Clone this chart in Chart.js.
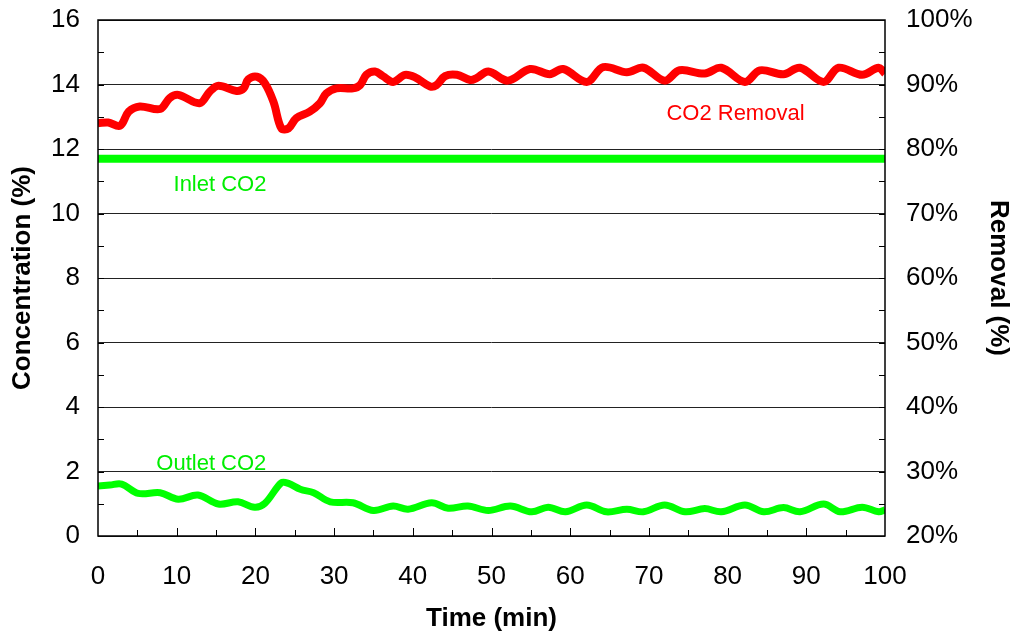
<!DOCTYPE html>
<html>
<head>
<meta charset="utf-8">
<script src="https://cdn.jsdelivr.net/npm/chart.js@4.4.0/dist/chart.umd.min.js"></script>
<style>
  html, body { margin: 0; padding: 0; background: #fff; }
  #wrap { width: 1016px; height: 635px; }
</style>
</head>
<body>
<div id="wrap"><canvas id="myChart" width="1016" height="635"></canvas></div>
<script>
// time (min) and values
var removalTime = [0, 1.3, 2.8, 3.9, 5.3, 7.9, 9.1, 10.2, 12.9, 14.2, 15.3, 17.6, 18.5, 19.1, 20.2,
    21.2, 22.3, 23.3, 24.2, 25.2, 26.9, 28.2, 29.0, 30.3, 32.4, 33.3, 34.1, 35.2, 36.2, 37.5,
    39.0, 40.3, 42.2, 43.0, 44.1, 45.6, 47.3, 48.1, 49.6, 52.1, 54.9, 57.4, 59.1, 62.1, 64.2,
    67.2, 69.3, 72.0, 73.9, 77.1, 79.2, 82.2, 84.1, 87.1, 89.2, 92.2, 94.1, 97.1, 99.2, 100];
var removal = [84.0, 84.1, 83.6, 85.8, 86.6, 86.2, 87.9, 88.4, 87.1, 88.9, 89.8, 89.0, 89.4, 90.8, 91.2,
    90.2, 87.3, 83.2, 83.2, 84.8, 85.8, 87.1, 88.6, 89.4, 89.4, 89.9, 91.5, 92.0, 91.3, 90.4,
    91.5, 91.1, 89.7, 89.9, 91.3, 91.5, 90.7, 91.0, 92.0, 90.6, 92.4, 91.6, 92.4, 90.4, 92.7,
    91.9, 92.6, 90.6, 92.2, 91.7, 92.6, 90.4, 92.2, 91.6, 92.6, 90.4, 92.6, 91.5, 92.6, 91.7];

var outletTime = [0, 1.5, 3.0, 5.1, 7.9, 10.2, 12.7, 15.3, 17.8, 19.9, 21.2, 23.3, 24.2, 25.7, 27.4,
    29.5, 32.4, 35.0, 37.5, 39.4, 42.4, 44.5, 47.0, 49.6, 52.4, 55.1, 57.2, 59.4, 62.1, 64.6,
    67.2, 69.3, 72.0, 74.6, 77.1, 79.2, 82.2, 84.6, 87.1, 89.2, 92.2, 94.3, 97.1, 99.2, 100];
var outletCO2 = [1.55, 1.58, 1.61, 1.32, 1.34, 1.14, 1.27, 0.99, 1.06, 0.89, 1.01, 1.65, 1.63, 1.45, 1.34,
    1.06, 1.03, 0.79, 0.93, 0.83, 1.03, 0.86, 0.93, 0.79, 0.93, 0.75, 0.89, 0.75, 0.96, 0.75,
    0.83, 0.75, 0.96, 0.75, 0.85, 0.75, 0.96, 0.75, 0.88, 0.75, 0.99, 0.75, 0.89, 0.75, 0.81];

var inletTime = [0, 100];
var inletCO2 = [11.7, 11.7];

// text labels placed in data units: [text, time, value, axis, colour]
var seriesLabels = [
    ['CO2 Removal', 81, 85.4, 'y1', '#ff0000'],
    ['Inlet CO2', 15.5, 10.88, 'y', '#00ee00'],
    ['Outlet CO2', 14.4, 2.23, 'y', '#00ee00']
];

function pts(xs, ys) {
    return xs.map(function (x, i) { return { x: x, y: ys[i] }; });
}

var FONT = 'Liberation Sans, Arial, sans-serif';

// inward tick marks, frame and series labels
var decor = {
    id: 'decor',
    afterDatasetsDraw: function (chart) {
        var ctx = chart.ctx, a = chart.chartArea;
        var sx = chart.scales.x, sy = chart.scales.y, sy1 = chart.scales.y1;
        ctx.save();
        ctx.strokeStyle = '#000';
        ctx.lineWidth = 1;
        ctx.beginPath();
        for (var t = 5; t < 100; t += 5) {
            var px = Math.round(sx.getPixelForValue(t)) + 0.5;
            var len = (t % 10 === 0) ? 8 : 6;
            ctx.moveTo(px, a.bottom); ctx.lineTo(px, a.bottom - len);
        }
        for (var v = 1; v < 16; v += 1) {
            var py = Math.round(sy.getPixelForValue(v)) + 0.5;
            ctx.moveTo(a.left, py); ctx.lineTo(a.left + 6, py);
        }
        for (var p = 25; p < 100; p += 5) {
            var py1 = Math.round(sy1.getPixelForValue(p)) + 0.5;
            ctx.moveTo(a.right, py1); ctx.lineTo(a.right - 6, py1);
        }
        ctx.stroke();
        ctx.lineWidth = 1.5;
        ctx.strokeRect(a.left, a.top, a.right - a.left, a.bottom - a.top);

        ctx.font = '22px ' + FONT;
        ctx.textAlign = 'center';
        ctx.textBaseline = 'middle';
        seriesLabels.forEach(function (l) {
            ctx.fillStyle = l[4];
            ctx.fillText(l[0], sx.getPixelForValue(l[1]), chart.scales[l[3]].getPixelForValue(l[2]));
        });
        ctx.restore();
    }
};

function fitY(width) {
    return function (s) {
        s.width = width;
        s.paddingTop = 0;
        s.paddingBottom = 0;
    };
}

var ctx = document.getElementById('myChart').getContext('2d');
var chart = new Chart(ctx, {
    type: 'line',
    data: {
        datasets: [{
                label: 'CO2 Removal',
                data: pts(removalTime, removal),
                yAxisID: 'y1',
                borderColor: '#ff0000',
                borderWidth: 8,
                tension: 0.35,
                pointRadius: 0,
                clip: 0
            },
            {
                label: 'Inlet CO2',
                data: pts(inletTime, inletCO2),
                yAxisID: 'y',
                borderColor: '#00ff00',
                borderWidth: 8,
                pointRadius: 0,
                clip: 0
            },
            {
                label: 'Outlet CO2',
                data: pts(outletTime, outletCO2),
                yAxisID: 'y',
                borderColor: '#00ff00',
                borderWidth: 7,
                tension: 0.35,
                pointRadius: 0,
                clip: 0
            }
        ]
    },
    options: {
        responsive: false,
        animation: false,
        layout: { padding: { top: 20, left: 0, right: 0, bottom: 0 } },
        plugins: {
            legend: { display: false },
            tooltip: { enabled: false }
        },
        scales: {
            x: {
                type: 'linear',
                min: 0,
                max: 100,
                ticks: { stepSize: 10, padding: 25, color: '#000', font: { family: FONT, size: 26 } },
                grid: { display: false, drawTicks: false },
                border: { display: false },
                title: { display: true, text: 'Time (min)', color: '#000', padding: { top: 0, bottom: 1 },
                    font: { family: FONT, size: 26, weight: 'bold' } },
                afterFit: function (s) { s.height = 99; }
            },
            y: {
                position: 'left',
                min: 0,
                max: 16,
                ticks: { stepSize: 2, padding: 18, color: '#000', font: { family: FONT, size: 26 } },
                grid: { color: '#222', lineWidth: 1, drawTicks: false },
                border: { display: false },
                title: { display: true, text: 'Concentration (%)', color: '#000', padding: { top: 7, bottom: 0 },
                    font: { family: FONT, size: 26, weight: 'bold' } },
                afterFit: fitY(98)
            },
            y1: {
                position: 'right',
                min: 20,
                max: 100,
                ticks: { stepSize: 10, padding: 21, color: '#000', font: { family: FONT, size: 26 },
                    callback: function (v) { return v + '%'; } },
                grid: { display: false, drawTicks: false },
                border: { display: false },
                title: { display: true, text: 'Removal (%)', color: '#000', padding: { top: 2, bottom: 0 },
                    font: { family: FONT, size: 26, weight: 'bold' } },
                afterFit: fitY(131)
            }
        }
    },
    plugins: [decor]
});
</script>
</body>
</html>
